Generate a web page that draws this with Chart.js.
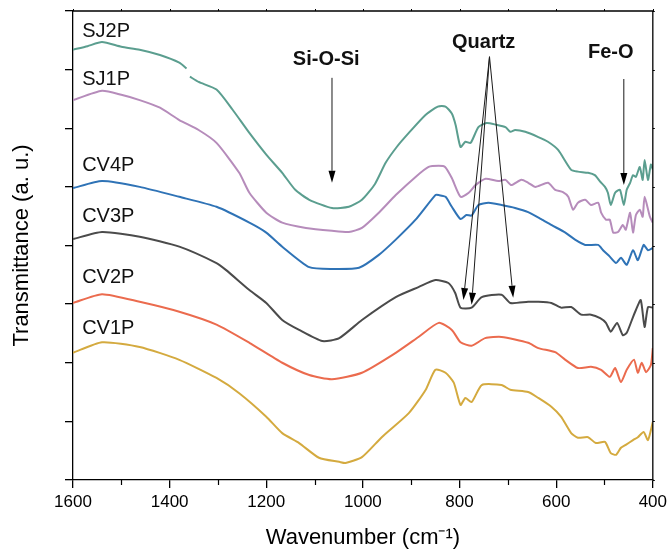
<!DOCTYPE html>
<html>
<head>
<meta charset="utf-8">
<script src="https://cdn.jsdelivr.net/npm/chart.js@4"></script>
<style>
  html, body { margin: 0; padding: 0; background: #ffffff; }
  #wrap { width: 671px; height: 551px; }
</style>
</head>
<body>
<div id="wrap"><canvas id="ftir-chart" width="671" height="551"></canvas></div>
<script>
/* ----------------------------
   DATA
   (wavenumber in cm-1, transmittance offset in arbitrary units)
   ---------------------------- */
var sj2pWn  = [1600, 1570, 1540, 1500, 1462, 1420, 1380, 1365, 1362, 1358, 1340, 1303, 1270, 1235, 1200, 1167, 1140, 1111, 1064, 1029, 1002, 975, 953, 930, 905, 870, 845, 829, 816, 808, 798, 788, 777, 761, 744, 724, 705, 695, 685, 664, 637, 617, 596, 569, 555, 534, 520, 509, 499, 493, 487, 478, 468, 460, 454, 447, 441, 435, 427, 421, 417, 410, 404, 400];
var sj2pVal = [7.34, 7.40, 7.47, 7.39, 7.34, 7.25, 7.12, 7.02, null, 6.88, 6.79, 6.66, 6.32, 5.92, 5.55, 5.24, 4.95, 4.78, 4.64, 4.66, 4.78, 5.05, 5.41, 5.68, 5.92, 6.23, 6.37, 6.37, 6.25, 6.05, 5.68, 5.77, 5.75, 6.02, 6.09, 6.06, 6.02, 5.94, 5.97, 5.94, 5.85, 5.77, 5.63, 5.29, 5.26, 5.24, 5.20, 5.09, 5.00, 4.90, 4.69, 4.90, 4.95, 4.69, 4.95, 5.07, 5.20, 5.17, 5.34, 5.12, 5.46, 5.12, 5.38, 5.30];

var sj1pWn  = [1600, 1540, 1500, 1462, 1420, 1380, 1340, 1303, 1256, 1235, 1200, 1167, 1118, 1064, 1029, 1002, 967, 932, 891, 864, 843, 830, 816, 798, 781, 767, 746, 720, 705, 693, 672, 658, 643, 617, 602, 586, 575, 565, 555, 540, 528, 513, 507, 497, 489, 482, 472, 462, 456, 447, 441, 435, 427, 421, 417, 406, 400];
var sj1pVal = [6.48, 6.64, 6.57, 6.48, 6.35, 6.14, 5.97, 5.75, 5.24, 4.90, 4.56, 4.39, 4.30, 4.25, 4.23, 4.30, 4.56, 4.86, 5.17, 5.34, 5.36, 5.34, 5.15, 4.83, 4.90, 5.03, 5.14, 5.10, 5.12, 5.03, 5.12, 5.07, 5.00, 5.07, 4.95, 4.91, 4.83, 4.61, 4.73, 4.78, 4.69, 4.73, 4.56, 4.44, 4.44, 4.22, 4.23, 4.35, 4.27, 4.56, 4.22, 4.52, 4.61, 4.49, 4.83, 4.49, 4.39];

var cv4pWn  = [1600, 1540, 1462, 1380, 1303, 1235, 1200, 1167, 1111, 1064, 1008, 967, 932, 891, 850, 843, 829, 816, 798, 786, 775, 761, 740, 713, 685, 658, 631, 610, 581, 561, 540, 513, 503, 489, 476, 466, 454, 441, 431, 419, 410, 400];
var cv4pVal = [4.98, 5.10, 5.00, 4.83, 4.66, 4.39, 4.22, 3.98, 3.63, 3.60, 3.62, 3.84, 4.10, 4.44, 4.86, 4.86, 4.83, 4.66, 4.45, 4.52, 4.51, 4.69, 4.73, 4.69, 4.64, 4.57, 4.45, 4.35, 4.22, 4.10, 4.01, 4.01, 3.92, 3.81, 3.70, 3.79, 3.67, 3.92, 3.75, 4.01, 3.92, 3.96];

var cv3pWn  = [1600, 1540, 1462, 1380, 1303, 1283, 1235, 1200, 1167, 1132, 1084, 1049, 1002, 932, 885, 850, 823, 809, 798, 775, 754, 713, 695, 658, 637, 610, 590, 569, 548, 528, 509, 497, 487, 474, 462, 454, 441, 435, 425, 417, 410, 400];
var cv3pVal = [4.11, 4.23, 4.15, 3.98, 3.70, 3.58, 3.24, 3.02, 2.73, 2.56, 2.37, 2.42, 2.73, 3.12, 3.29, 3.41, 3.36, 3.19, 2.94, 2.94, 3.12, 3.16, 3.02, 3.04, 3.04, 3.02, 2.94, 2.95, 2.82, 2.82, 2.76, 2.68, 2.53, 2.68, 2.47, 2.51, 2.78, 2.90, 3.07, 2.61, 2.95, 2.94];

var cv2pWn  = [1600, 1540, 1462, 1380, 1303, 1235, 1167, 1111, 1064, 1002, 932, 885, 843, 816, 798, 775, 747, 713, 658, 637, 602, 581, 555, 528, 507, 489, 478, 466, 454, 439, 431, 423, 414, 404, 400];
var cv2pVal = [3.02, 3.17, 3.04, 2.87, 2.65, 2.34, 2.00, 1.79, 1.72, 1.83, 2.17, 2.44, 2.68, 2.56, 2.35, 2.29, 2.42, 2.44, 2.34, 2.25, 2.18, 2.05, 1.91, 1.93, 1.88, 1.76, 1.91, 1.67, 1.88, 2.05, 1.83, 2.00, 1.84, 1.96, 2.25];

var cv1pWn  = [1600, 1540, 1462, 1380, 1303, 1256, 1200, 1167, 1132, 1091, 1049, 1036, 1002, 961, 905, 870, 850, 829, 812, 798, 788, 775, 754, 713, 695, 658, 637, 610, 590, 569, 555, 534, 518, 499, 487, 476, 466, 456, 441, 431, 419, 410, 400];
var cv1pVal = [2.17, 2.35, 2.27, 2.05, 1.74, 1.48, 1.08, 0.80, 0.63, 0.38, 0.31, 0.29, 0.39, 0.73, 1.14, 1.54, 1.88, 1.83, 1.66, 1.28, 1.40, 1.33, 1.62, 1.62, 1.54, 1.50, 1.40, 1.25, 1.08, 0.80, 0.72, 0.73, 0.63, 0.65, 0.46, 0.43, 0.55, 0.60, 0.68, 0.73, 0.82, 0.68, 0.99];

var seriesNames  = ["SJ2P", "SJ1P", "CV4P", "CV3P", "CV2P", "CV1P"];
var seriesColors = ["#5b9e8f", "#b68cbb", "#2f73b6", "#4b4b4b", "#eb6b4e", "#d4aa3f"];
var seriesWn     = [sj2pWn, sj1pWn, cv4pWn, cv3pWn, cv2pWn, cv1pWn];
var seriesVal    = [sj2pVal, sj1pVal, cv4pVal, cv3pVal, cv2pVal, cv1pVal];

// sample name labels (left side)
var nameLabelWn = 1581;
var nameLabelY  = [7.65, 6.84, 5.36, 4.50, 3.45, 2.58];

// x-axis ticks
var majorTicks = [1600, 1400, 1200, 1000, 800, 600, 400];
var minorTicks = [1500, 1300, 1100, 900, 700, 500];

// band assignments and their arrows: [wn, y] from -> to
var bandLabels   = ["Si-O-Si", "Quartz", "Fe-O"];
var bandLabelPos = [[1076, 7.17], [750, 7.47], [487, 7.29]];
var bandArrows   = [
  [[1064, 6.86], [1064, 5.07]],
  [[738, 7.22], [792, 3.07]],
  [[738, 7.22], [775, 2.99]],
  [[738, 7.22], [689, 3.11]],
  [[460, 6.84], [460, 5.03]]
];

/* ----------------------------
   DATASETS
   ---------------------------- */
var datasets = seriesNames.map(function (name, i) {
  return {
    label: name,
    data: seriesWn[i].map(function (wn, j) { return { x: wn, y: seriesVal[i][j] }; }),
    borderColor: seriesColors[i],
    borderWidth: 2,
    pointRadius: 0,
    tension: 0.2,
    fill: false
  };
});

/* ----------------------------
   PLUGIN — frame, minor ticks, labels and arrows
   ---------------------------- */
var decorPlugin = {
  id: "decor",
  afterDraw: function (chart) {
    var ctx = chart.ctx;
    var xs = chart.scales.x;
    var ys = chart.scales.y;
    var area = chart.chartArea;

    ctx.save();
    ctx.strokeStyle = "#000";
    ctx.lineWidth = 1.3;

    // top and right frame lines
    ctx.beginPath();
    ctx.moveTo(area.left, area.top);
    ctx.lineTo(area.right, area.top);
    ctx.lineTo(area.right, area.bottom);
    ctx.stroke();

    // minor ticks on the bottom axis
    ctx.lineWidth = 1.2;
    minorTicks.forEach(function (v) {
      var px = Math.round(xs.getPixelForValue(v)) + 0.5;
      ctx.beginPath();
      ctx.moveTo(px, area.bottom);
      ctx.lineTo(px, area.bottom + 5);
      ctx.stroke();
    });

    // tiny ticks on top and right
    ctx.lineWidth = 1;
    majorTicks.concat(minorTicks).forEach(function (v) {
      var px = Math.round(xs.getPixelForValue(v)) + 0.5;
      ctx.beginPath();
      ctx.moveTo(px, area.top);
      ctx.lineTo(px, area.top - 2);
      ctx.stroke();
    });
    ys.ticks.forEach(function (t) {
      var py = Math.round(ys.getPixelForValue(t.value)) + 0.5;
      ctx.beginPath();
      ctx.moveTo(area.right, py);
      ctx.lineTo(area.right + 2, py);
      ctx.stroke();
    });

    // sample names
    ctx.fillStyle = "#111";
    ctx.font = "20px 'Liberation Sans', Arial, sans-serif";
    ctx.textAlign = "left";
    ctx.textBaseline = "middle";
    seriesNames.forEach(function (name, i) {
      ctx.fillText(name, xs.getPixelForValue(nameLabelWn), ys.getPixelForValue(nameLabelY[i]));
    });

    // band labels
    ctx.font = "bold 20px 'Liberation Sans', Arial, sans-serif";
    ctx.textAlign = "center";
    bandLabels.forEach(function (txt, i) {
      ctx.fillText(txt, xs.getPixelForValue(bandLabelPos[i][0]), ys.getPixelForValue(bandLabelPos[i][1]));
    });

    // arrows
    ctx.strokeStyle = "#1a1a1a";
    ctx.fillStyle = "#000";
    ctx.lineWidth = 1;
    bandArrows.forEach(function (a) {
      var x1 = xs.getPixelForValue(a[0][0]), y1 = ys.getPixelForValue(a[0][1]);
      var x2 = xs.getPixelForValue(a[1][0]), y2 = ys.getPixelForValue(a[1][1]);
      var ang = Math.atan2(y2 - y1, x2 - x1);
      var len = 12, half = 3.5;
      var bx = x2 - len * Math.cos(ang), by = y2 - len * Math.sin(ang);
      ctx.beginPath();
      ctx.moveTo(x1, y1);
      ctx.lineTo(bx, by);
      ctx.stroke();
      ctx.beginPath();
      ctx.moveTo(x2, y2);
      ctx.lineTo(bx + half * Math.sin(ang), by - half * Math.cos(ang));
      ctx.lineTo(bx - half * Math.sin(ang), by + half * Math.cos(ang));
      ctx.closePath();
      ctx.fill();
    });

    ctx.restore();
  }
};

/* ----------------------------
   CHART
   ---------------------------- */
var ctx = document.getElementById("ftir-chart").getContext("2d");

var ftirChart = new Chart(ctx, {
  type: "line",
  data: { datasets: datasets },
  options: {
    responsive: false,
    animation: false,
    layout: { padding: { left: 0, right: 16, top: 11, bottom: 0 } },
    plugins: {
      legend: { display: false },
      tooltip: { enabled: false }
    },
    scales: {
      x: {
        type: "linear",
        reverse: true,
        min: 400,
        max: 1600,
        afterBuildTicks: function (scale) {
          scale.ticks = majorTicks.map(function (v) { return { value: v }; });
        },
        afterFit: function (scale) { scale.height = 71; },
        grid: {
          drawOnChartArea: false,
          drawTicks: true,
          tickLength: 8,
          color: "#000",
          lineWidth: 1.3
        },
        border: { display: true, color: "#000", width: 1.3 },
        ticks: {
          color: "#000",
          padding: 4,
          maxRotation: 0,
          font: { family: "'Liberation Sans', Arial, sans-serif", size: 17 },
          callback: function (value) { return String(value); }
        },
        title: {
          display: true,
          text: "Wavenumber (cm\u207B\u00B9)",
          color: "#000",
          padding: { top: 0, bottom: 0 },
          font: { family: "'Liberation Sans', Arial, sans-serif", size: 22 }
        }
      },
      y: {
        type: "linear",
        min: 0,
        max: 8,
        ticks: { display: false, stepSize: 1 },
        afterFit: function (scale) { scale.width = 73; },
        grid: {
          drawOnChartArea: false,
          drawTicks: true,
          tickLength: 8,
          color: "#000",
          lineWidth: 1.3
        },
        border: { display: true, color: "#000", width: 1.3 },
        title: {
          display: true,
          text: "Transmittance (a. u.)",
          color: "#000",
          padding: { top: 9, bottom: 0 },
          font: { family: "'Liberation Sans', Arial, sans-serif", size: 22 }
        }
      }
    }
  },
  plugins: [decorPlugin]
});
</script>
</body>
</html>
